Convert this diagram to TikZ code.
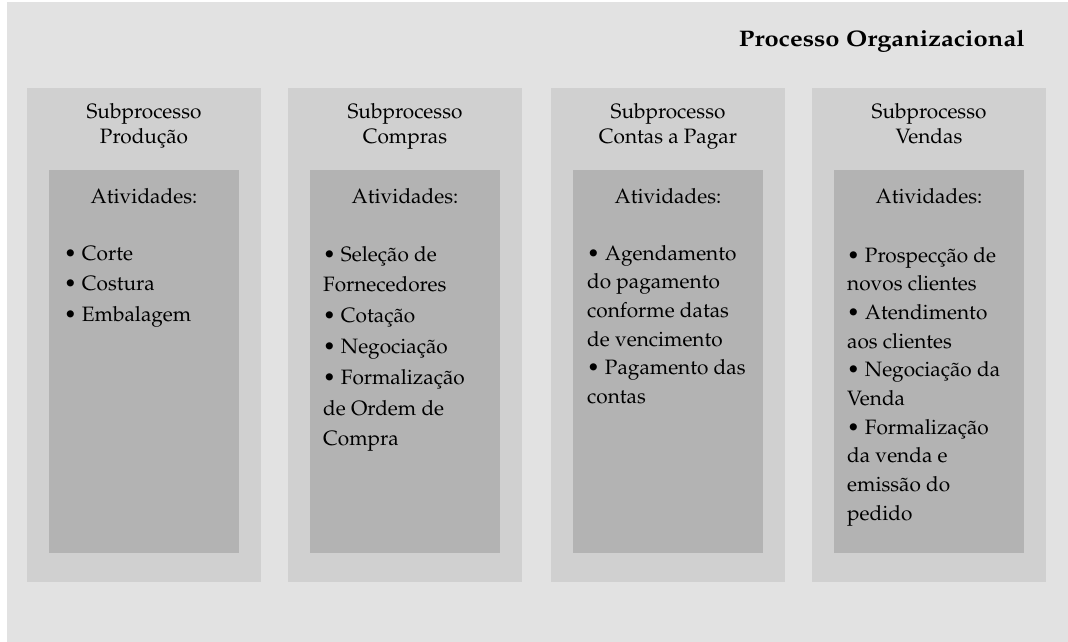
\documentclass[tikz,border=0pt]{standalone}
\usepackage[T1]{fontenc}
\usepackage{mathpazo}
\usepackage{graphicx}
\definecolor{bgc}{HTML}{E2E2E2}
\definecolor{colc}{HTML}{D0D0D0}
\definecolor{innc}{HTML}{B3B3B3}
\tikzset{
  colbox/.style={fill=colc, draw=none, minimum width=234pt, minimum height=494pt, anchor=north west, inner sep=0pt},
  innbox/.style={fill=innc, draw=none, minimum width=190pt, minimum height=383pt, anchor=north west, inner sep=0pt},
  headtxt/.style={font=\fontsize{20.8}{25}\selectfont, align=center, anchor=base, inner sep=0pt},
  acttxt/.style={font=\fontsize{20.8}{25}\selectfont, anchor=base, inner sep=0pt},
  listA/.style={font=\fontsize{20.8}{30.8}\selectfont, align=left, anchor=base west, inner sep=0pt},
  listB/.style={font=\fontsize{20.8}{28.7}\selectfont, align=left, anchor=base west, inner sep=0pt},
  titletxt/.style={font=\fontsize{22.5}{26}\selectfont\bfseries, anchor=base east, inner sep=0pt}
}
\begin{document}
\begin{tikzpicture}[x=1pt,y=-1pt]
\useasboundingbox (0,0) rectangle (1068,642);
\fill[bgc] (7,2) rectangle (1068,642);
\node[titletxt] (title) at (1025,47) {\scalebox{1.135}[1]{Processo Organizacional}};
% columns
\node[colbox] (c1) at (27,88) {};
\node[colbox] (c2) at (288,88) {};
\node[colbox] (c3) at (551,88) {};
\node[colbox] (c4) at (812,88) {};
\node[innbox] (i1) at (49,170) {};
\node[innbox] (i2) at (310,170) {};
\node[innbox] (i3) at (573,170) {};
\node[innbox] (i4) at (834,170) {};
% headings (base = last line)
\node[headtxt] (h1) at (144,143) {Subprocesso\\Produção};
\node[headtxt] (h2) at (405,143) {Subprocesso\\Compras};
\node[headtxt] (h3) at (668,143) {Subprocesso\\Contas a Pagar};
\node[headtxt] (h4) at (929,143) {Subprocesso\\Vendas};
\node[acttxt] (a1) at (144,203) {Atividades:};
\node[acttxt] (a2) at (405,203) {Atividades:};
\node[acttxt] (a3) at (668,203) {Atividades:};
\node[acttxt] (a4) at (929,203) {Atividades:};
% lists (base = last line)
\node[listA] (l1) at (64,321.6) {\textbullet{} Corte\\\textbullet{} Costura\\\textbullet{} Embalagem};
\node[listA] (l2) at (323,445.8) {\textbullet{} Seleção de\\Fornecedores\\\textbullet{} Cotação\\\textbullet{} Negociação\\\textbullet{} Formalização\\de Ordem de\\Compra};
\node[listB] (l3) at (587,403.5) {\textbullet{} Agendamento\\do pagamento\\conforme datas\\de vencimento\\\textbullet{} Pagamento das\\contas};
\node[listB] (l4) at (847,520.3) {\textbullet{} Prospecção de\\novos clientes\\\textbullet{} Atendimento\\aos clientes\\\textbullet{} Negociação da\\Venda\\\textbullet{} Formalização\\da venda e\\emissão do\\pedido};
\end{tikzpicture}
\end{document}
